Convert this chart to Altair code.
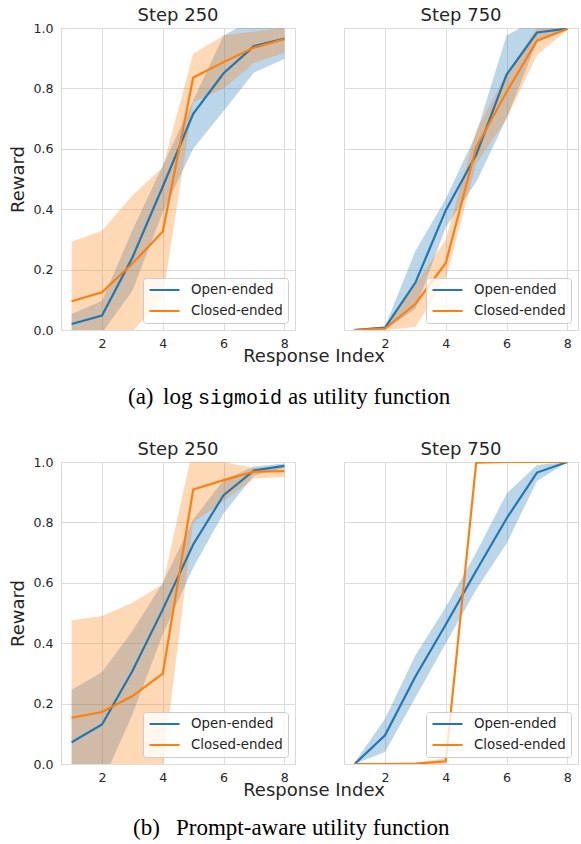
import altair as alt
import pandas as pd

# ---------------- data ----------------
x_idx = [1, 2, 3, 4, 5, 6, 7, 8]
series_names = ["Open-ended", "Closed-ended"]
panel_titles = ["Step 250", "Step 750"]
x_title = "Response Index"
y_title = "Reward"
y_ticks = [0.0, 0.2, 0.4, 0.6, 0.8, 1.0]
x_ticks = [2, 4, 6, 8]

# (a) log sigmoid utility, step 250
a250_open_mean = [0.02, 0.048, 0.24, 0.475, 0.716, 0.85, 0.94, 0.965]
a250_open_lo = [0.0, -0.01, 0.13, 0.39, 0.60, 0.725, 0.853, 0.897]
a250_open_hi = [0.053, 0.097, 0.33, 0.545, 0.76, 0.975, 1.03, 1.04]
a250_closed_mean = [0.095, 0.125, 0.22, 0.326, 0.836, 0.887, 0.935, 0.963]
a250_closed_lo = [-0.1, -0.08, -0.005, 0.107, 0.755, 0.80, 0.884, 0.918]
a250_closed_hi = [0.292, 0.329, 0.445, 0.539, 0.915, 0.975, 0.988, 1.0]

# (a) log sigmoid utility, step 750
a750_open_mean = [0.0, 0.008, 0.157, 0.397, 0.58, 0.846, 0.985, 0.998]
a750_open_lo = [0.0, 0.0, 0.07, 0.34, 0.49, 0.70, 0.955, 0.995]
a750_open_hi = [0.004, 0.012, 0.262, 0.435, 0.65, 0.975, 1.03, 1.0]
a750_closed_mean = [0.0, 0.005, 0.086, 0.222, 0.605, 0.788, 0.958, 0.997]
a750_closed_lo = [0.0, 0.0, 0.01, 0.17, 0.55, 0.70, 0.91, 0.993]
a750_closed_hi = [0.003, 0.01, 0.15, 0.30, 0.66, 0.85, 1.0, 1.0]

# (b) prompt-aware utility, step 250
b250_open_mean = [0.072, 0.131, 0.308, 0.512, 0.727, 0.89, 0.972, 0.987]
b250_open_lo = [-0.1, -0.062, 0.164, 0.43, 0.65, 0.83, 0.955, 0.98]
b250_open_hi = [0.245, 0.305, 0.44, 0.60, 0.81, 0.94, 0.985, 0.995]
b250_closed_mean = [0.153, 0.172, 0.225, 0.299, 0.909, 0.94, 0.968, 0.97]
b250_closed_lo = [-0.3, -0.25, -0.15, -0.01, 0.80, 0.87, 0.945, 0.95]
b250_closed_hi = [0.476, 0.49, 0.534, 0.595, 1.05, 1.0, 0.98, 0.985]

# (b) prompt-aware utility, step 750
b750_open_mean = [0.0, 0.095, 0.29, 0.462, 0.64, 0.813, 0.965, 1.0]
b750_open_lo = [0.0, 0.04, 0.22, 0.40, 0.578, 0.73, 0.937, 1.0]
b750_open_hi = [0.005, 0.15, 0.36, 0.52, 0.70, 0.895, 0.99, 1.0]
b750_closed_mean = [0.0, 0.0, 0.001, 0.009, 0.998, 1.0, 1.0, 1.0]
b750_closed_lo = [0.0, 0.0, 0.0, 0.0, 0.995, 1.0, 1.0, 1.0]
b750_closed_hi = [0.0, 0.0, 0.003, 0.02, 1.0, 1.0, 1.0, 1.0]

caption_a_parts = ["(a)", "log", "sigmoid", "as utility function"]
caption_b_parts = ["(b)", "Prompt-aware utility function"]

# ---------------- style ----------------
W, H = 234, 302
GAP = 47
BLUE, ORANGE = "#1f77b4", "#ff7f0e"
FONT = "DejaVu Sans"
SERIF = "Liberation Serif"
MONO = "Liberation Mono"
TXT = "#262626"
ORIGIN = 63  # absolute x of the left plot edge


def make_df(om, olo, ohi, cm, clo, chi):
    rows = []
    for name, m, lo, hi in [(series_names[0], om, olo, ohi),
                            (series_names[1], cm, clo, chi)]:
        for x, a, b, c in zip(x_idx, m, lo, hi):
            rows.append({"idx": x, "series": name, "band": name,
                         "mean": a, "lo": b, "hi": c})
    return pd.DataFrame(rows)


def panel(df, title, left):
    xscale = alt.Scale(domain=[0.65, 8.35], nice=False, zero=False)
    yscale = alt.Scale(domain=[0, 1], nice=False, zero=False)
    cscale = alt.Scale(domain=series_names, range=[BLUE, ORANGE])
    xaxis = alt.Axis(values=x_ticks, title=None, labelPadding=7)
    if left:
        yaxis = alt.Axis(values=y_ticks, format=".1f", title=y_title,
                         labelPadding=8, titlePadding=5)
    else:
        yaxis = alt.Axis(values=y_ticks, labels=False, title=None)
    base = alt.Chart(df)
    band = base.mark_area(fillOpacity=0.3, clip=True).encode(
        x=alt.X("idx:Q", scale=xscale, axis=xaxis),
        y=alt.Y("lo:Q", scale=yscale, axis=yaxis),
        y2="hi:Q",
        fill=alt.Fill("band:N", scale=cscale, legend=None),
    )
    line = base.mark_line(strokeWidth=2.2, clip=True).encode(
        x=alt.X("idx:Q", scale=xscale),
        y=alt.Y("mean:Q", scale=yscale),
        color=alt.Color(
            "series:N", scale=cscale, sort=series_names,
            legend=alt.Legend(
                title=None, orient="bottom-right", offset=7,
                fillColor="rgba(255,255,255,0.8)", strokeColor="#cccccc",
                cornerRadius=3, padding=5, symbolType="stroke",
                symbolSize=900, symbolStrokeWidth=2.2, clipHeight=14,
                labelFontSize=13.4, labelFont=FONT, labelColor=TXT,
                labelOffset=10, rowPadding=7, labelLimit=300,
            ),
        ),
    )
    # left panel's "1.0" tick label pokes above the plot, so its title
    # needs a smaller offset to sit at the same height as the right one
    return alt.layer(band, line).properties(
        width=W, height=H,
        title=alt.TitleParams(title, fontSize=18, font=FONT,
                              fontWeight="normal", color=TXT,
                              offset=-3 if left else 3),
    )


def row(df_left, df_right):
    return alt.hconcat(
        panel(df_left, panel_titles[0], True),
        panel(df_right, panel_titles[1], False),
        spacing=GAP,
    ).resolve_scale(color="independent").resolve_legend(
        color="independent").properties(
        title=alt.TitleParams(x_title, orient="bottom", anchor="middle",
                              fontSize=18, font=FONT, fontWeight="normal",
                              color=TXT, offset=0, dx=20, dy=-2))


def text_piece(txt, x, y, font, size):
    return alt.Chart(alt.Data(values=[{"t": txt}])).mark_text(
        align="left", baseline="alphabetic", font=font, fontSize=size,
        color="black",
    ).encode(text="t:N", x=alt.value(x), y=alt.value(y))


cap_a = alt.layer(
    text_piece(caption_a_parts[0], 130 - ORIGIN, 36, SERIF, 23),
    text_piece(caption_a_parts[1], 165 - ORIGIN, 36, SERIF, 23),
    text_piece(caption_a_parts[2], 200 - ORIGIN, 36, MONO, 20),
    text_piece(caption_a_parts[3], 290 - ORIGIN, 36, SERIF, 23),
).properties(width=2 * W + GAP, height=71,
             view=alt.ViewBackground(stroke="transparent"))

cap_b = alt.layer(
    text_piece(caption_b_parts[0], 135 - ORIGIN, 33, SERIF, 23),
    text_piece(caption_b_parts[1], 178 - ORIGIN, 33, SERIF, 23),
).properties(width=2 * W + GAP, height=40,
             view=alt.ViewBackground(stroke="transparent"))

df_a250 = make_df(a250_open_mean, a250_open_lo, a250_open_hi,
                  a250_closed_mean, a250_closed_lo, a250_closed_hi)
df_a750 = make_df(a750_open_mean, a750_open_lo, a750_open_hi,
                  a750_closed_mean, a750_closed_lo, a750_closed_hi)
df_b250 = make_df(b250_open_mean, b250_open_lo, b250_open_hi,
                  b250_closed_mean, b250_closed_lo, b250_closed_hi)
df_b750 = make_df(b750_open_mean, b750_open_lo, b750_open_hi,
                  b750_closed_mean, b750_closed_lo, b750_closed_hi)

chart = alt.vconcat(
    row(df_a250, df_a750), cap_a, row(df_b250, df_b750), cap_b, spacing=0,
).resolve_scale(color="independent").resolve_legend(
    color="independent").properties(
    padding={"left": 9, "top": 6, "right": 0, "bottom": 0},
    background="white",
).configure_view(stroke="#d9d9d9", strokeWidth=1).configure_axis(
    domain=False, ticks=False, grid=True, gridColor="#dcdcdc", gridWidth=1,
    labelFont=FONT, labelFontSize=12.6, labelColor=TXT,
    titleFont=FONT, titleFontSize=18, titleFontWeight="normal", titleColor=TXT,
)

chart.save("out.html", embed_options={"renderer": "svg", "actions": False})
